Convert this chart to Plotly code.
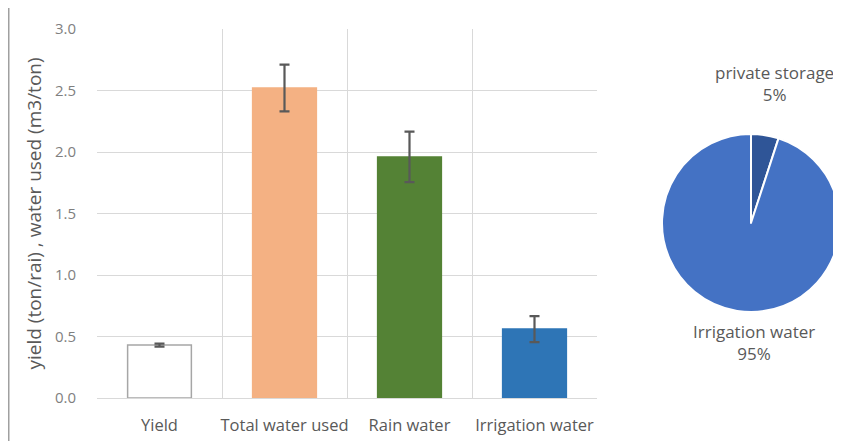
import plotly.graph_objects as go

categories = ["Yield", "Total water used", "Rain water", "Irrigation water"]
values = [0.43, 2.52, 1.96, 0.56]
errors = [0.012, 0.19, 0.205, 0.105]
bar_colors = ["#FFFFFF", "#F4B183", "#548235", "#2E75B6"]
bar_lines = ["#A6A6A6", "#F4B183", "#548235", "#2E75B6"]

pie_labels = ["private storage", "Irrigation water"]
pie_values = [5, 95]
pie_colors = ["#2F5597", "#4472C4"]

FONT = "Open Sans"
GREY = "#595959"
W, H = 833, 433   # page adds an 8px body margin
OX, OY = 8, 8

def px(x):
    return (x - OX) / W

def py(y):
    return 1 - (y - OY) / H

fig = go.Figure()
fig.add_trace(go.Bar(
    x=categories, y=values, width=0.51,
    marker=dict(color=bar_colors, line=dict(color=bar_lines, width=1.5)),
    error_y=dict(type="data", array=errors, color="#595959", thickness=2.2, width=5),
    showlegend=False,
))
fig.add_trace(go.Pie(
    labels=pie_labels, values=pie_values, sort=False, direction="clockwise", rotation=0,
    marker=dict(colors=pie_colors, line=dict(color="white", width=2)),
    textinfo="none", hoverinfo="label+percent", showlegend=False,
    domain=dict(x=[px(662), px(840)], y=[py(313), py(133)]),
))

fig.add_annotation(x=px(774), y=py(84), xref="paper", yref="paper", text="private storage<br>5%",
                   showarrow=False, xanchor="center", yanchor="middle",
                   font=dict(family=FONT, size=17, color=GREY))
fig.add_annotation(x=px(754), y=py(342), xref="paper", yref="paper", text="Irrigation water<br>95%",
                   showarrow=False, xanchor="center", yanchor="middle",
                   font=dict(family=FONT, size=17, color=GREY))

fig.add_shape(type="line", xref="paper", yref="paper", x0=0, x1=0, y0=0, y1=1,
              line=dict(color="#A0A0A0", width=3))

fig.update_layout(
    width=W, height=H,
    margin=dict(l=0, r=0, t=0, b=0),
    paper_bgcolor="white", plot_bgcolor="white",
    font=dict(family=FONT, size=15, color=GREY),
    xaxis=dict(domain=[px(97), px(597)], automargin=False,
               tickson="boundaries", showgrid=True, gridcolor="#D9D9D9", ticks="",
               showline=True, linecolor="#D9D9D9", tickfont=dict(size=16.5, color=GREY),
               tickangle=0, ticklabelstandoff=12),
    yaxis=dict(domain=[py(398), py(29)], automargin=False,
               range=[0, 3.0], dtick=0.5, tickformat=".1f", showgrid=True, gridcolor="#D9D9D9",
               zeroline=False, ticks="", ticklabelstandoff=20,
               title=dict(text="yield (ton/rai) , water used (m3/ton)", standoff=8,
                          font=dict(size=19, color=GREY)),
               tickfont=dict(size=15, color="#7F7F7F")),
    bargap=0.49,
)
fig.write_html("out.html")
